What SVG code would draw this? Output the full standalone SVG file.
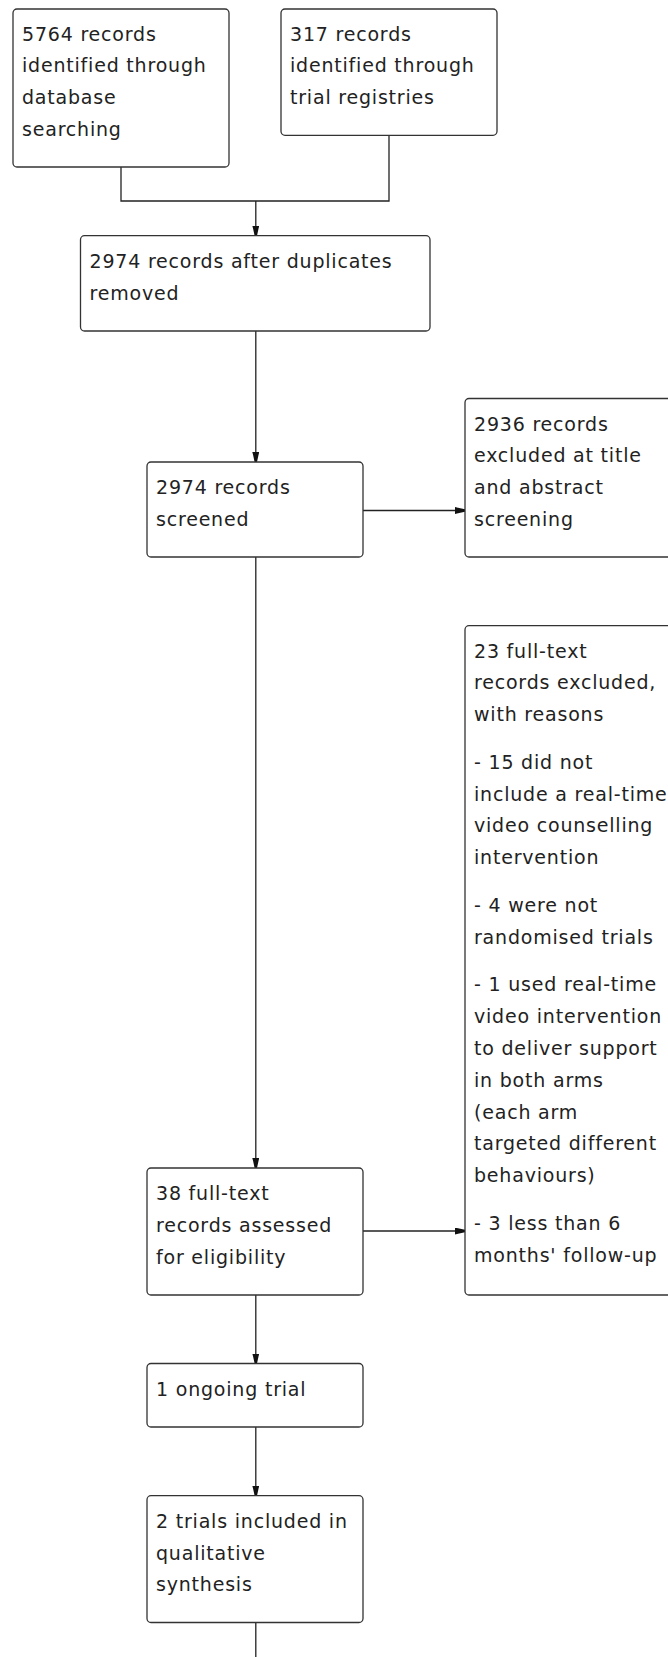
<svg xmlns="http://www.w3.org/2000/svg" width="668" height="1657" viewBox="0 0 668 1657">
<style>
.box{fill:#fff;stroke:#333;stroke-width:1.3}
.t{font-family:"DejaVu Sans",Verdana,sans-serif;font-size:19px;letter-spacing:0.8px;fill:#222}
.c{fill:none;stroke:#222;stroke-width:1.3}
</style>
<defs>
<marker id="ar" viewBox="0 0 10 7" refX="10" refY="3.5" markerWidth="10" markerHeight="7" markerUnits="userSpaceOnUse" orient="auto">
<path d="M0,0 L3,0.8 L10,2.3 L10,4.7 L3,6.2 L0,7 Z" fill="#111"/>
</marker>
</defs>
<rect width="668" height="1657" fill="#fff"/>
<g id="connectors">
<path class="c" d="M121,167 V201 H389 V135.3"/>
<path class="c" d="M255.8,201 V235.7" marker-end="url(#ar)"/>
<path class="c" d="M255.8,331 V462" marker-end="url(#ar)"/>
<path class="c" d="M363,510.5 H465" marker-end="url(#ar)"/>
<path class="c" d="M255.8,557 V1168" marker-end="url(#ar)"/>
<path class="c" d="M363,1231 H465" marker-end="url(#ar)"/>
<path class="c" d="M255.8,1295 V1363.5" marker-end="url(#ar)"/>
<path class="c" d="M255.8,1427 V1495.7" marker-end="url(#ar)"/>
<path class="c" d="M255.8,1622.5 V1657"/>
</g>
<g id="n1">
<rect class="box" x="13" y="9" width="216" height="158" rx="4"/>
<text class="t"><tspan x="22" y="40.5">5764 records</tspan><tspan x="22" y="72.3">identified through</tspan><tspan x="22" y="104.1">database</tspan><tspan x="22" y="135.9">searching</tspan></text>
</g>
<g id="n2">
<rect class="box" x="281" y="9" width="216" height="126.3" rx="4"/>
<text class="t"><tspan x="290" y="40.5">317 records</tspan><tspan x="290" y="72.3">identified through</tspan><tspan x="290" y="104.1">trial registries</tspan></text>
</g>
<g id="n3">
<rect class="box" x="80.5" y="235.7" width="349.5" height="95.3" rx="4"/>
<text class="t"><tspan x="89.5" y="267.7">2974 records after duplicates</tspan><tspan x="89.5" y="299.5">removed</tspan></text>
</g>
<g id="n4">
<rect class="box" x="147" y="462" width="216" height="95" rx="4"/>
<text class="t"><tspan x="156" y="494">2974 records</tspan><tspan x="156" y="525.8">screened</tspan></text>
</g>
<g id="n5">
<rect class="box" x="465" y="398.5" width="216" height="158.5" rx="4"/>
<text class="t"><tspan x="474" y="430.5">2936 records</tspan><tspan x="474" y="462.3">excluded at title</tspan><tspan x="474" y="494.1">and abstract</tspan><tspan x="474" y="525.9">screening</tspan></text>
</g>
<g id="n6">
<rect class="box" x="465" y="625.7" width="216" height="669.3" rx="4"/>
<text class="t"><tspan x="474" y="657.5">23 full-text</tspan><tspan x="474" y="689.3">records excluded,</tspan><tspan x="474" y="721.1">with reasons</tspan><tspan x="474" y="768.8">- 15 did not</tspan><tspan x="474" y="800.6">include a real-time</tspan><tspan x="474" y="832.4">video counselling</tspan><tspan x="474" y="864.2">intervention</tspan><tspan x="474" y="911.9">- 4 were not</tspan><tspan x="474" y="943.7">randomised trials</tspan><tspan x="474" y="991.4">- 1 used real-time</tspan><tspan x="474" y="1023.2">video intervention</tspan><tspan x="474" y="1055">to deliver support</tspan><tspan x="474" y="1086.8">in both arms</tspan><tspan x="474" y="1118.6">(each arm</tspan><tspan x="474" y="1150.4">targeted different</tspan><tspan x="474" y="1182.2">behaviours)</tspan><tspan x="474" y="1229.9">- 3 less than 6</tspan><tspan x="474" y="1261.7">months' follow-up</tspan></text>
</g>
<g id="n7">
<rect class="box" x="147" y="1168" width="216" height="127" rx="4"/>
<text class="t"><tspan x="156" y="1200">38 full-text</tspan><tspan x="156" y="1231.8">records assessed</tspan><tspan x="156" y="1263.6">for eligibility</tspan></text>
</g>
<g id="n8">
<rect class="box" x="147" y="1363.5" width="216" height="63.5" rx="4"/>
<text class="t"><tspan x="156" y="1395.5">1 ongoing trial</tspan></text>
</g>
<g id="n9">
<rect class="box" x="147" y="1495.7" width="216" height="126.8" rx="4"/>
<text class="t"><tspan x="156" y="1527.7">2 trials included in</tspan><tspan x="156" y="1559.5">qualitative</tspan><tspan x="156" y="1591.3">synthesis</tspan></text>
</g>
</svg>
